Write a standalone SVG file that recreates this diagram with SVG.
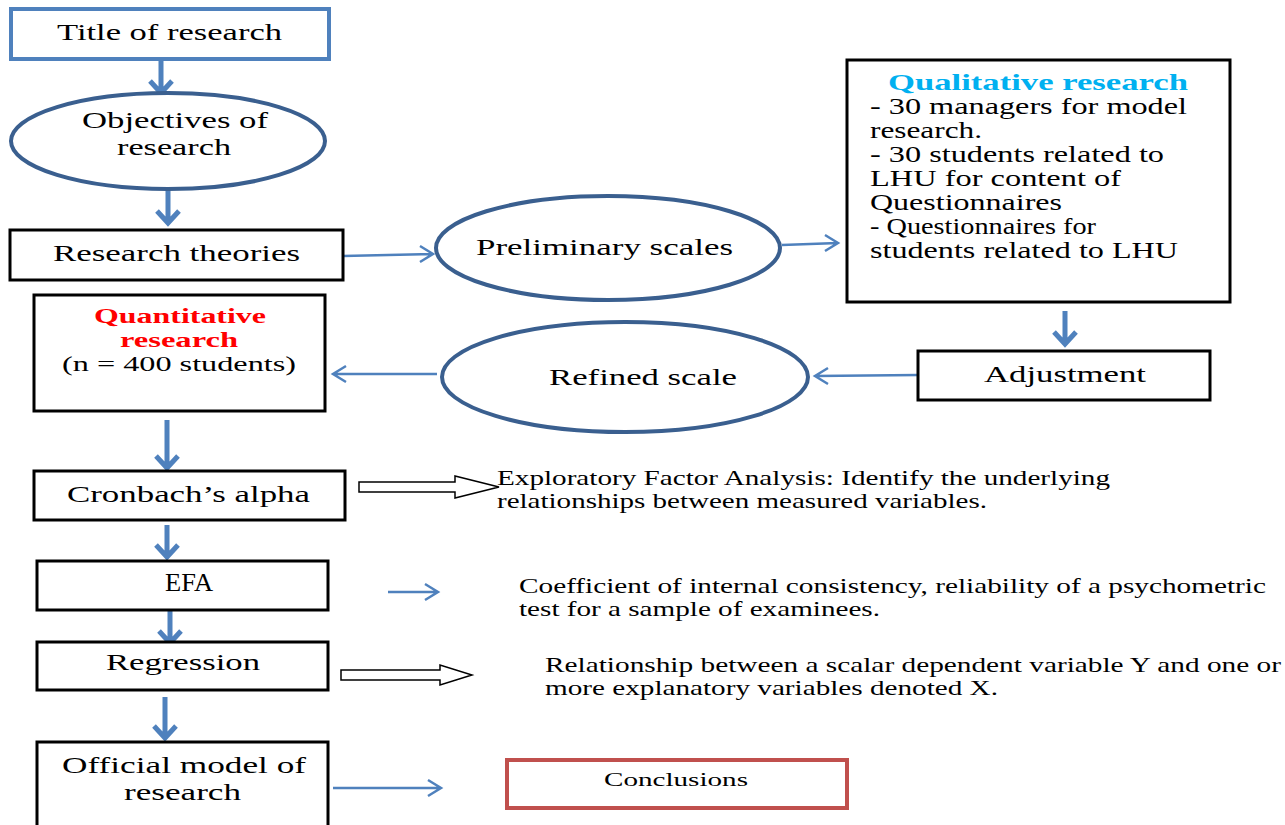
<svg xmlns="http://www.w3.org/2000/svg" width="1285" height="825" viewBox="0 0 1285 825">
<defs>
<style>
text{font-family:"Liberation Serif","Times New Roman",serif;fill:#000;}
.t{font-size:24px;}
.d{font-size:21px;}
.box{fill:#fff;stroke:#000;stroke-width:3;}
.ell{fill:#fff;stroke:#3A5F8F;stroke-width:4;}
.thick{fill:none;stroke:#4F81BD;stroke-width:5;}
.thin{fill:none;stroke:#4F81BD;stroke-width:2.5;}
.hollow{fill:#fff;stroke:#000;stroke-width:1.5;}
</style>
</defs>
<rect width="1285" height="825" fill="#fff"/>

<g id="connectors">
  <path class="thick" d="M161 60V92M150 81L161 93L172 81"/>
  <path class="thick" d="M168 190V222M157 211L168 223L179 211"/>
  <path class="thick" d="M1065 311V343M1054 332L1065 344L1076 332"/>
  <path class="thick" d="M167 420V467M156 456L167 468L178 456"/>
  <path class="thick" d="M167 525V556M156 545L167 557L178 545"/>
  <path class="thick" d="M170 611V642M159 631L170 643L181 631"/>
  <path class="thick" d="M165 697V737M154 726L165 738L176 726"/>
  <path class="thin" d="M343 256L433 254M420 246L433 254L420 262"/>
  <path class="thin" d="M782 245L838 243M825 235L838 243L825 251"/>
  <path class="thin" d="M918 375L815 376M828 368L815 376L828 384"/>
  <path class="thin" d="M437 374L333 374M346 366L333 374L346 382"/>
  <path class="thin" d="M388 592L438 592M425 584L438 592L425 600"/>
  <path class="thin" d="M333 788L441 788M428 780L441 788L428 796"/>
  <path class="hollow" d="M359 482H455V476L499 487L455 498V492H359Z"/>
  <path class="hollow" d="M341 670H440V665L472 675L440 685V680H341Z"/>
</g>

<g id="title">
  <rect x="11" y="9" width="318" height="50" fill="#fff" stroke="#4F81BD" stroke-width="4"/>
  <text class="t" x="57" y="40" textLength="225" lengthAdjust="spacingAndGlyphs">Title of research</text>
</g>

<g id="objectives">
  <ellipse class="ell" cx="168" cy="141" rx="157" ry="48"/>
  <text class="t" x="82" y="128" textLength="186" lengthAdjust="spacingAndGlyphs">Objectives of</text>
  <text class="t" x="117" y="155" textLength="114" lengthAdjust="spacingAndGlyphs">research</text>
</g>

<g id="theories">
  <rect class="box" x="10" y="230" width="333" height="50"/>
  <text class="t" x="53" y="261" textLength="247" lengthAdjust="spacingAndGlyphs">Research theories</text>
</g>

<g id="preliminary">
  <ellipse class="ell" cx="608" cy="248" rx="172" ry="52"/>
  <text class="t" x="476" y="255" textLength="257" lengthAdjust="spacingAndGlyphs">Preliminary scales</text>
</g>

<g id="qualitative">
  <rect class="box" x="847" y="60" width="383" height="242"/>
  <text x="888" y="90" font-size="23" font-weight="bold" style="fill:#00B0F0" textLength="300" lengthAdjust="spacingAndGlyphs">Qualitative research</text>
  <text class="t" x="870" y="114" textLength="317" lengthAdjust="spacingAndGlyphs">- 30 managers for model</text>
  <text class="t" x="870" y="138" textLength="112" lengthAdjust="spacingAndGlyphs">research.</text>
  <text class="t" x="870" y="162" textLength="294" lengthAdjust="spacingAndGlyphs">- 30 students related to</text>
  <text class="t" x="870" y="186" textLength="251" lengthAdjust="spacingAndGlyphs">LHU for content of</text>
  <text class="t" x="870" y="210" textLength="192" lengthAdjust="spacingAndGlyphs">Questionnaires</text>
  <text class="t" x="870" y="234" textLength="226" lengthAdjust="spacingAndGlyphs">- Questionnaires for</text>
  <text class="t" x="870" y="258" textLength="308" lengthAdjust="spacingAndGlyphs">students related to LHU</text>
</g>

<g id="adjustment">
  <rect class="box" x="918" y="351" width="292" height="49"/>
  <text class="t" x="984" y="382" textLength="162" lengthAdjust="spacingAndGlyphs">Adjustment</text>
</g>

<g id="refined">
  <ellipse class="ell" cx="625" cy="377" rx="183" ry="55"/>
  <text class="t" x="549" y="385" textLength="188" lengthAdjust="spacingAndGlyphs">Refined scale</text>
</g>

<g id="quantitative">
  <rect class="box" x="34" y="295" width="291" height="116"/>
  <text x="94" y="323" font-size="22" font-weight="bold" style="fill:#FF0000" textLength="172" lengthAdjust="spacingAndGlyphs">Quantitative</text>
  <text x="120" y="347" font-size="22" font-weight="bold" style="fill:#FF0000" textLength="118" lengthAdjust="spacingAndGlyphs">research</text>
  <text x="62" y="371" font-size="22" textLength="234" lengthAdjust="spacingAndGlyphs">(n = 400 students)</text>
</g>

<g id="cronbach">
  <rect class="box" x="34" y="471" width="311" height="49"/>
  <text class="t" x="67" y="502" textLength="243" lengthAdjust="spacingAndGlyphs">Cronbach’s alpha</text>
</g>

<g id="efa-note">
  <text class="d" x="497" y="485" textLength="613" lengthAdjust="spacingAndGlyphs">Exploratory Factor Analysis: Identify the underlying</text>
  <text class="d" x="497" y="508" textLength="490" lengthAdjust="spacingAndGlyphs">relationships between measured variables.</text>
</g>

<g id="efa">
  <rect class="box" x="37" y="561" width="291" height="49"/>
  <text x="165" y="591" font-size="26" textLength="48" lengthAdjust="spacingAndGlyphs">EFA</text>
</g>

<g id="alpha-note">
  <text class="d" x="519" y="593" textLength="747" lengthAdjust="spacingAndGlyphs">Coefficient of internal consistency, reliability of a psychometric</text>
  <text class="d" x="519" y="616" textLength="361" lengthAdjust="spacingAndGlyphs">test for a sample of examinees.</text>
</g>

<g id="regression">
  <rect class="box" x="37" y="642" width="291" height="48"/>
  <text class="t" x="106" y="670" textLength="154" lengthAdjust="spacingAndGlyphs">Regression</text>
</g>

<g id="regression-note">
  <text class="d" x="545" y="672" textLength="736" lengthAdjust="spacingAndGlyphs">Relationship between a scalar dependent variable Y and one or</text>
  <text class="d" x="545" y="695" textLength="453" lengthAdjust="spacingAndGlyphs">more explanatory variables denoted X.</text>
</g>

<g id="official">
  <rect class="box" x="37" y="742" width="291" height="90"/>
  <text class="t" x="62" y="773" textLength="244" lengthAdjust="spacingAndGlyphs">Official model of</text>
  <text class="t" x="124" y="800" textLength="117" lengthAdjust="spacingAndGlyphs">research</text>
</g>

<g id="conclusions">
  <rect x="507" y="760" width="340" height="48" fill="#fff" stroke="#C0504D" stroke-width="4"/>
  <text x="604" y="786" font-size="19" textLength="144" lengthAdjust="spacingAndGlyphs">Conclusions</text>
</g>
</svg>
